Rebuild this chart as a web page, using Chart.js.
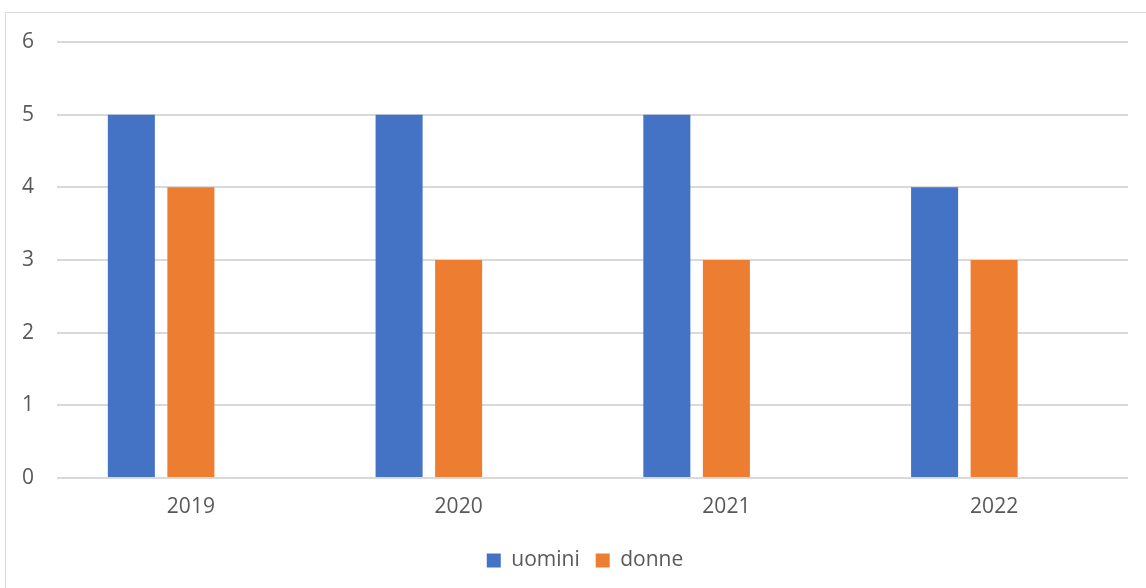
<!DOCTYPE html>
<html>
<head>
<meta charset="utf-8">
<script src="https://cdn.jsdelivr.net/npm/chart.js@4"></script>
<style>
  html, body { margin: 0; padding: 0; background: #fff; overflow: hidden; }
  #wrap { position: relative; width: 1146px; height: 588px; }
  #frame { position: absolute; left: 5px; top: 12px; width: 2000px; height: 2000px;
           border: 1.5px solid #d9d9d9; pointer-events: none; }
</style>
</head>
<body>
<div id="wrap">
  <canvas id="c" width="1146" height="588"></canvas>
  <div id="frame"></div>
</div>
<script>
// categories and series
const anni = ['2019', '2020', '2021', '2022'];
const uomini = [5, 5, 5, 4];
const donne = [4, 3, 3, 3];
const vuota = [null, null, null, null];   // third (empty) series: keeps Excel's bar offset
const yTicks = [0, 1, 2, 3, 4, 5, 6];

const TEXT = '#595959';
const FONT = { family: '"Open Sans", sans-serif', size: 21 };

// nudge the legend so it sits centred under the plot area like Excel does
const legendShift = {
  id: 'legendShift',
  afterLayout(chart) {
    const lg = chart.legend;
    if (lg) { lg.left += 21; lg.right += 21; }
  },
};

new Chart(document.getElementById('c'), {
  type: 'bar',
  data: {
    labels: anni,
    datasets: [
      { label: 'uomini', data: uomini, backgroundColor: '#4472c4' },
      { label: 'donne', data: donne, backgroundColor: '#ed7d31' },
      { label: '', data: vuota, backgroundColor: 'transparent' },
    ],
  },
  options: {
    responsive: false,
    animation: false,
    categoryPercentage: 0.667,
    barPercentage: 0.79,
    layout: { padding: { top: 42, right: 18, bottom: 7, left: 0 } },
    plugins: {
      tooltip: { enabled: false },
      legend: {
        position: 'bottom',
        labels: {
          color: TEXT, font: FONT, boxWidth: 14, boxHeight: 14, padding: 16,
          filter: (item) => item.text !== '',
        },
      },
    },
    scales: {
      x: {
        grid: { display: false, drawTicks: false },
        border: { display: false },
        ticks: { color: TEXT, font: FONT, padding: 16, maxRotation: 0 },
        afterFit: (a) => { a.height = 56; },
      },
      y: {
        min: 0, max: 6,
        afterBuildTicks: (a) => { a.ticks = yTicks.map((v) => ({ value: v })); },
        grid: { color: '#d9d9d9', lineWidth: 2, drawTicks: false },
        border: { display: false },
        ticks: { color: TEXT, font: FONT, padding: 23 },
        afterFit: (a) => { a.width = 57; },
      },
    },
  },
  plugins: [legendShift],
});
</script>
</body>
</html>
